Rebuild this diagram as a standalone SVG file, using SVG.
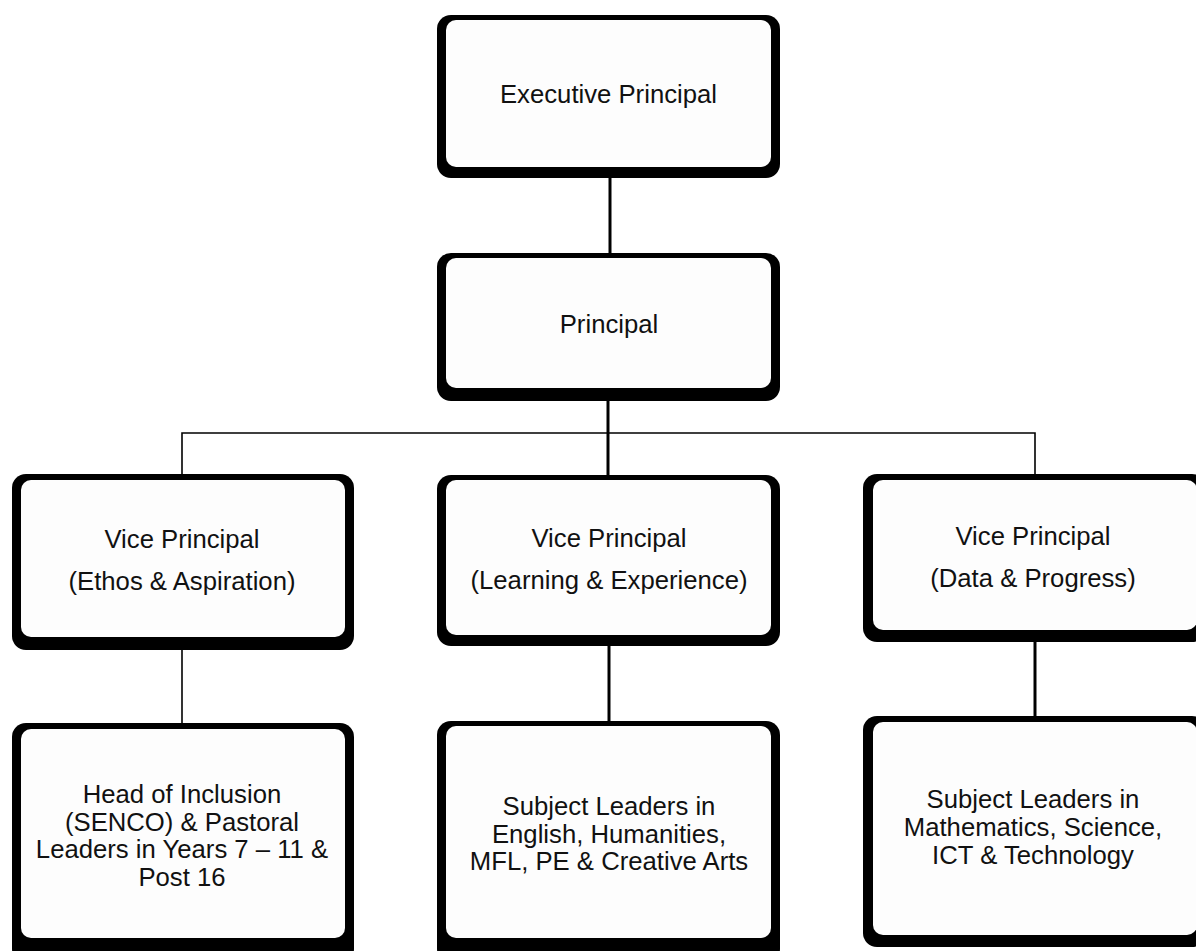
<svg xmlns="http://www.w3.org/2000/svg" width="1196" height="951" viewBox="0 0 1196 951">
<style>
.outer{fill:#000}
.inner{fill:#fdfdfd}
.t{font-family:"Liberation Sans",Arial,sans-serif;font-size:25.7px;fill:#111;text-anchor:middle}
.thick{stroke:#000;stroke-width:3;fill:none}
.thin{stroke:#000;stroke-width:1.6;fill:none}
</style>
<rect width="1196" height="951" fill="#fff"/>
<g id="connectors">
<line class="thick" x1="610" y1="170" x2="610" y2="258"/>
<line class="thick" x1="608" y1="395" x2="608" y2="480"/>
<polyline class="thin" points="182,476 182,433 1035,433 1035,476"/>
<line class="thin" x1="182" y1="645" x2="182" y2="726"/>
<line class="thick" x1="609" y1="640" x2="609" y2="724"/>
<line class="thick" x1="1035" y1="636" x2="1035" y2="719"/>
</g>
<g id="exec">
<rect class="outer" x="437" y="15" width="343" height="163" rx="14"/>
<rect class="inner" x="446" y="20" width="325" height="147" rx="10"/>
<text class="t" x="608.5" y="103">Executive Principal</text>
</g>
<g id="principal">
<rect class="outer" x="437" y="253" width="343" height="148" rx="14"/>
<rect class="inner" x="446" y="258" width="325" height="130" rx="10"/>
<text class="t" x="609" y="333">Principal</text>
</g>
<g id="vp-ethos">
<rect class="outer" x="12" y="474" width="342" height="176" rx="14"/>
<rect class="inner" x="21" y="480" width="324" height="157" rx="10"/>
<text class="t" x="182" y="548">Vice Principal</text>
<text class="t" x="182" y="590">(Ethos &amp; Aspiration)</text>
</g>
<g id="vp-learning">
<rect class="outer" x="437" y="475" width="343" height="171" rx="14"/>
<rect class="inner" x="446" y="480" width="325" height="155" rx="10"/>
<text class="t" x="609" y="547">Vice Principal</text>
<text class="t" x="609" y="589">(Learning &amp; Experience)</text>
</g>
<g id="vp-data">
<rect class="outer" x="863" y="474" width="343" height="168" rx="14"/>
<rect class="inner" x="873" y="480" width="324" height="150" rx="10"/>
<text class="t" x="1033" y="545">Vice Principal</text>
<text class="t" x="1033" y="587">(Data &amp; Progress)</text>
</g>
<g id="inclusion">
<rect class="outer" x="12" y="723" width="342" height="240" rx="14"/>
<rect class="inner" x="21" y="729" width="324" height="209" rx="10"/>
<text class="t" x="182" y="803">Head of Inclusion</text>
<text class="t" x="182" y="831">(SENCO) &amp; Pastoral</text>
<text class="t" x="182" y="858">Leaders in Years 7 – 11 &amp;</text>
<text class="t" x="182" y="886">Post 16</text>
</g>
<g id="subjects-english">
<rect class="outer" x="437" y="721" width="343" height="242" rx="14"/>
<rect class="inner" x="446" y="726" width="325" height="212" rx="10"/>
<text class="t" x="609" y="815">Subject Leaders in</text>
<text class="t" x="609" y="843">English, Humanities,</text>
<text class="t" x="609" y="870">MFL, PE &amp; Creative Arts</text>
</g>
<g id="subjects-maths">
<rect class="outer" x="863" y="716" width="343" height="231" rx="14"/>
<rect class="inner" x="873" y="722" width="324" height="213" rx="10"/>
<text class="t" x="1033" y="808">Subject Leaders in</text>
<text class="t" x="1033" y="836">Mathematics, Science,</text>
<text class="t" x="1033" y="864">ICT &amp; Technology</text>
</g>
</svg>
